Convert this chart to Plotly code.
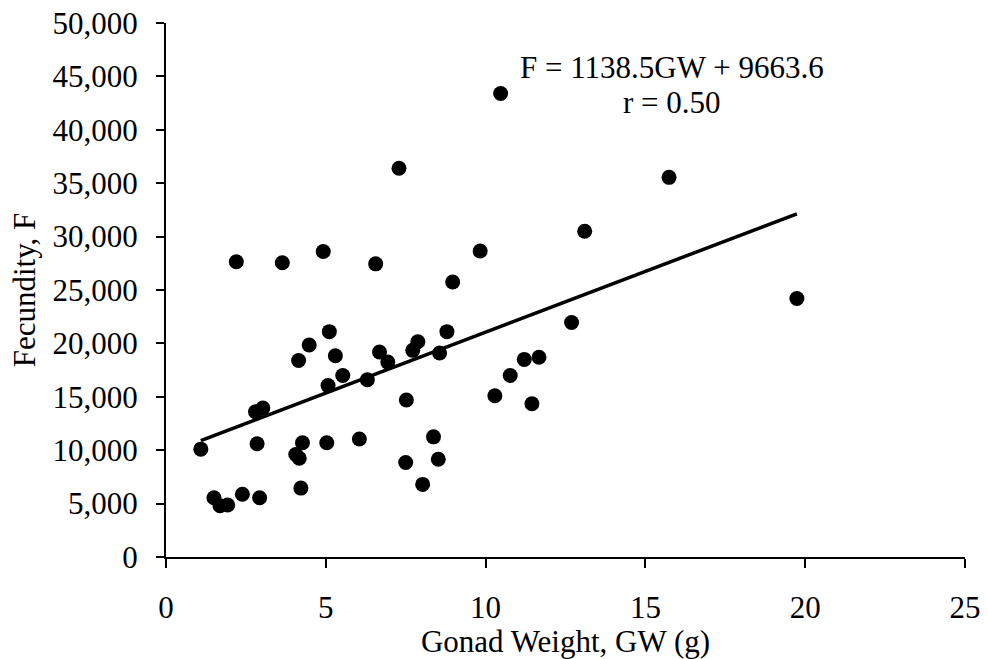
import plotly.graph_objects as go

gonad_weight = [1.09, 1.50, 1.69, 1.93, 2.39, 2.93, 2.20, 3.64, 4.92, 6.56, 8.97, 2.85, 2.80, 3.03,
                4.15, 4.48, 5.11, 5.30, 5.07, 5.53, 6.30, 6.68, 6.94, 7.72, 7.88, 8.79, 8.56, 7.52,
                4.27, 4.06, 4.17, 5.03, 6.05, 4.22, 7.50, 8.37, 8.52, 8.03,
                10.47, 15.74, 13.10, 9.83, 19.74, 12.69, 11.21, 11.67, 10.77, 10.29, 11.45, 7.29]
fecundity = [10100, 5550, 4800, 4870, 5870, 5550, 27650, 27550, 28600, 27450, 25750, 10600, 13600, 13950,
             18400, 19850, 21100, 18850, 16050, 17000, 16600, 19200, 18250, 19350, 20150, 21100, 19100, 14700,
             10700, 9600, 9250, 10700, 11050, 6450, 8850, 11250, 9150, 6800,
             43400, 35550, 30500, 28650, 24200, 21950, 18500, 18700, 17000, 15100, 14350, 36400]

slope = 1138.5
intercept = 9663.6
equation_line = "F = 1138.5GW + 9663.6"
r_line = "r = 0.50"

x_min = min(gonad_weight)
x_max = max(gonad_weight)
trend_x = [x_min, x_max]
trend_y = [slope * v + intercept for v in trend_x]

font_family = "Liberation Serif, Times New Roman, serif"
FS = 31

fig = go.Figure()
fig.add_trace(go.Scatter(x=gonad_weight, y=fecundity, mode="markers",
                         marker=dict(color="black", size=15, line=dict(width=0)),
                         showlegend=False, cliponaxis=False, hoverinfo="skip"))
fig.add_trace(go.Scatter(x=trend_x, y=trend_y, mode="lines",
                         line=dict(color="black", width=3.5), showlegend=False, hoverinfo="skip"))

fig.add_annotation(x=15.84, y=45800, text=equation_line, showarrow=False,
                   font=dict(family=font_family, size=FS, color="black"))
fig.add_annotation(x=15.84, y=42550, text=r_line, showarrow=False,
                   font=dict(family=font_family, size=FS, color="black"))

fig.update_layout(
    width=988, height=659,
    margin=dict(l=166, r=23, t=23, b=102),
    paper_bgcolor="white", plot_bgcolor="white",
    font=dict(family=font_family, size=FS, color="black"),
    hovermode=False,
    xaxis=dict(range=[0, 25], dtick=5, tick0=0, showgrid=False, zeroline=False,
               automargin=False, ticklabeloverflow="allow",
               showline=True, linecolor="black", linewidth=2,
               ticks="outside", ticklen=9, tickcolor="black", tickwidth=2,
               ticklabelstandoff=13,
               title=dict(text="Gonad Weight, GW (g)", standoff=11,
                          font=dict(family=font_family, size=FS, color="black")),
               tickfont=dict(family=font_family, size=FS, color="black")),
    yaxis=dict(range=[0, 50000], dtick=5000, tick0=0, showgrid=False, zeroline=False,
               automargin=False, ticklabeloverflow="allow",
               showline=True, linecolor="black", linewidth=2,
               ticks="outside", ticklen=8, tickcolor="black", tickwidth=2,
               ticklabelstandoff=12,
               tickformat=",d",
               title=dict(text="Fecundity, F", standoff=8,
                          font=dict(family=font_family, size=FS, color="black")),
               tickfont=dict(family=font_family, size=FS, color="black")),
)

fig.write_html("out.html", config={"displayModeBar": False},
               post_script="document.body.style.margin='0';")
